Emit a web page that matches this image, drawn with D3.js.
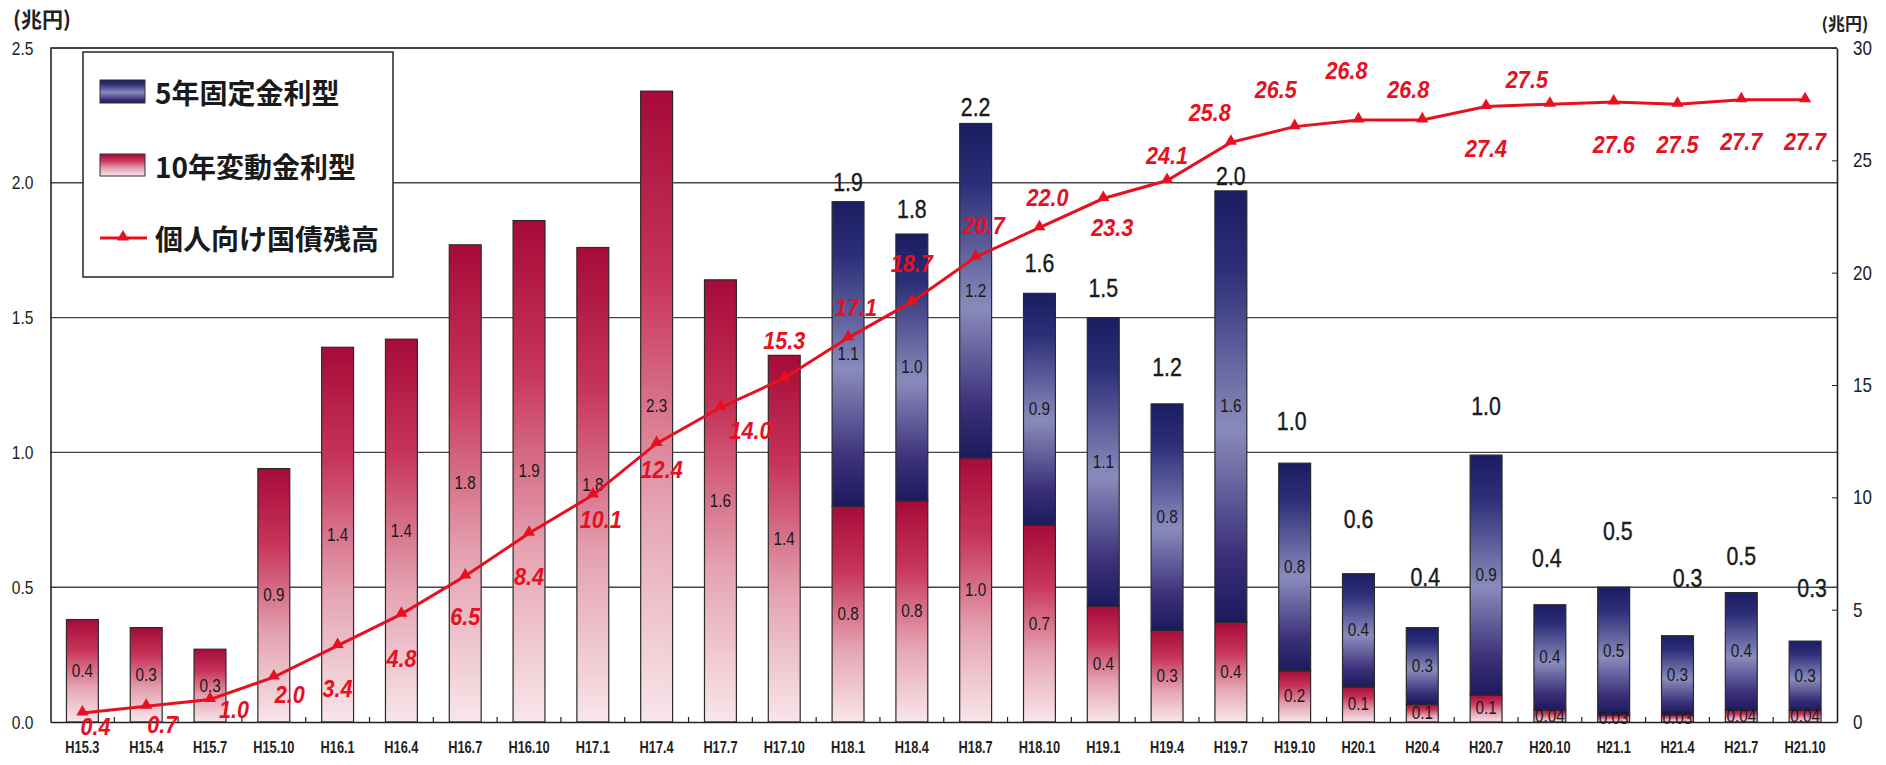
<!DOCTYPE html>
<html><head><meta charset="utf-8">
<script src="https://cdn.jsdelivr.net/npm/d3@7"></script>
<style>body{margin:0;background:#fff;} svg{display:block}</style>
</head><body><svg id="c" width="1886" height="765"></svg>
<script>
// ---------- data ----------
const categories = ["H15.3","H15.4","H15.7","H15.10","H16.1","H16.4","H16.7","H16.10","H17.1","H17.4","H17.7","H17.10",
  "H18.1","H18.4","H18.7","H18.10","H19.1","H19.4","H19.7","H19.10","H20.1","H20.4","H20.7","H20.10","H21.1","H21.4","H21.7","H21.10"];
const float10 = [0.38,0.35,0.27,0.94,1.39,1.42,1.77,1.86,1.76,2.34,1.64,1.36,
  0.80,0.82,0.98,0.73,0.43,0.34,0.37,0.19,0.13,0.065,0.10,0.045,0.027,0.027,0.043,0.043];
const fixed5 = [0,0,0,0,0,0,0,0,0,0,0,0,
  1.13,0.99,1.24,0.86,1.07,0.84,1.60,0.77,0.42,0.285,0.89,0.39,0.473,0.293,0.437,0.257];
const balance = [0.4,0.7,1.0,2.0,3.4,4.8,6.5,8.4,10.1,12.4,14.0,15.3,17.1,18.7,20.7,22.0,23.3,24.1,25.8,26.5,26.8,26.8,27.4,27.5,27.6,27.5,27.7,27.7];
const float10Labels = ["0.4","0.3","0.3","0.9","1.4","1.4","1.8","1.9","1.8","2.3","1.6","1.4",
  "0.8","0.8","1.0","0.7","0.4","0.3","0.4","0.2","0.1","0.1","0.1","0.04","0.03","0.03","0.04","0.04"];
const fixed5Labels = [null,null,null,null,null,null,null,null,null,null,null,null,
  "1.1","1.0","1.2","0.9","1.1","0.8","1.6","0.8","0.4","0.3","0.9","0.4","0.5","0.3","0.4","0.3"];
const totalLabels = [null,null,null,null,null,null,null,null,null,null,null,null,
  "1.9","1.8","2.2","1.6","1.5","1.2","2.0","1.0","0.6","0.4","1.0","0.4","0.5","0.3","0.5","0.3"];
const balanceLabels = ["0.4","0.7","1.0","2.0","3.4","4.8","6.5","8.4","10.1","12.4","14.0","15.3","17.1","18.7","20.7","22.0","23.3","24.1","25.8","26.5","26.8","26.8","27.4","27.5","27.6","27.5","27.7","27.7"];
const leftTicks = [0,0.5,1.0,1.5,2.0,2.5];
const rightTicks = [0,5,10,15,20,25,30];
const legendNames = ["5年固定金利型","10年変動金利型","個人向け国債残高"];
const unitText = "(兆円)";

// ---------- layout (pixels, kept apart from the data) ----------
const PL = 50.5, PR = 1837, PT = 48, PB = 722;
const balanceLabelShift = [[13,14],[16,18],[24,10],[16,18],[0,43],[0,44],[0,41],[0,43],[8,25],[5,26],[30,23],[0,-38],
  [8,-30],[0,-38],[8,-31],[8,-30],[9,29],[0,-25],[-21,-30],[-19,-37],[-12,-49],[-14,-30],[0,42],[-23,-25],[0,43],[0,40],[0,42],[0,42]];
const totalLabelShift = {12:[0,20],13:[0,25],14:[0,17],15:[0,31],16:[0,30],17:[0,37],18:[0,15],19:[-3,42],20:[0,55],
  21:[3,51],22:[0,49],23:[-3,47],24:[4,56],25:[10,58],26:[0,37],27:[7,53]};

const NUM = "'Liberation Sans',Arial,sans-serif";
const JP = "'Noto Sans CJK JP','Noto Sans',sans-serif";
const RED = "#e6101f";

const svg = d3.select("#c");
const defs = svg.append("defs");
const gBlue = defs.append("linearGradient").attr("id","gBlue").attr("x1",0).attr("y1",0).attr("x2",0).attr("y2",1);
[[0,"#1b1d62"],[0.18,"#2c2f78"],[0.55,"#8a8bbc"],[0.85,"#3a2f78"],[1,"#1c1a5e"]].forEach(([o,c])=>gBlue.append("stop").attr("offset",o).attr("stop-color",c));
const gRed = defs.append("linearGradient").attr("id","gRed").attr("x1",0).attr("y1",0).attr("x2",0).attr("y2",1);
[[0,"#a60b39"],[0.3,"#c7355a"],[0.65,"#e4a2b1"],[1,"#f8e6ea"]].forEach(([o,c])=>gRed.append("stop").attr("offset",o).attr("stop-color",c));

const x = d3.scaleBand().domain(categories).range([PL,PR]).paddingInner(0.5).paddingOuter(0.25);
const yL = d3.scaleLinear().domain([0,2.5]).range([PB,PT]);
const yR = d3.scaleLinear().domain([0,30]).range([PB,PT]);
const cx = c => x(c) + x.bandwidth()/2;
// condensed text helper: place at (px,py) and squeeze horizontally
const squeeze = (sx) => function(){ const t=d3.select(this); const px=+t.attr("x")||0, py=+t.attr("y")||0;
  t.attr("transform",`translate(${px},${py}) scale(${sx},1)`).attr("x",0).attr("y",0); };

// gridlines
svg.append("g").selectAll("line").data(leftTicks.filter(t=>t>0)).join("line")
  .attr("x1",PL).attr("x2",PR).attr("y1",d=>yL(d)).attr("y2",d=>yL(d))
  .attr("stroke","#444").attr("stroke-width",1.4);

// left axis
const ax = svg.append("g").attr("transform",`translate(${PL},0)`)
  .call(d3.axisLeft(yL).tickValues(leftTicks).tickFormat(d3.format(".1f")).tickSizeInner(0).tickSizeOuter(0).tickPadding(17));
ax.select(".domain").attr("stroke","#222").attr("stroke-width",1.6);
ax.selectAll("text").attr("font-family",NUM).attr("font-size",19).attr("fill","#222").each(squeeze(0.82));

// right axis
const ar = svg.append("g").attr("transform",`translate(${PR},0)`)
  .call(d3.axisRight(yR).tickValues(rightTicks).tickSizeInner(-5).tickSizeOuter(0).tickPadding(16));
ar.select(".domain").attr("stroke","#222").attr("stroke-width",1.6);
ar.selectAll("line").attr("stroke","#222");
ar.selectAll("text").attr("font-family",NUM).attr("font-size",20).attr("fill","#222").each(squeeze(0.85));

// bars
const stack = categories.map((c,i)=>({c,i,f:float10[i],b:fixed5[i]}));
const gb = svg.append("g");
gb.selectAll("rect.red").data(stack).join("rect").attr("class","red")
  .attr("x",d=>x(d.c)).attr("width",x.bandwidth())
  .attr("y",d=>yL(d.f)).attr("height",d=>yL(0)-yL(d.f))
  .attr("fill","url(#gRed)").attr("stroke","#2a2a2a").attr("stroke-width",1.2);
gb.selectAll("rect.blue").data(stack.filter(d=>d.b>0)).join("rect").attr("class","blue")
  .attr("x",d=>x(d.c)).attr("width",x.bandwidth())
  .attr("y",d=>yL(d.f+d.b)).attr("height",d=>yL(d.f)-yL(d.f+d.b))
  .attr("fill","url(#gBlue)").attr("stroke","#2a2a2a").attr("stroke-width",1.2);

// bottom axis
const axb = svg.append("g").attr("transform",`translate(0,${PB})`)
  .call(d3.axisBottom(x).tickSize(0).tickPadding(20));
axb.select(".domain").attr("stroke","#222").attr("stroke-width",1.6);
axb.selectAll("text").attr("font-family",NUM).attr("font-weight","bold").attr("font-size",16).attr("fill","#222").each(squeeze(0.8));
svg.append("g").selectAll("line").data(d3.range(1,categories.length)).join("line")
  .attr("x1",i=>PL+i*x.step()).attr("x2",i=>PL+i*x.step()).attr("y1",PB).attr("y2",PB-5)
  .attr("stroke","#222").attr("stroke-width",1.2);
// top frame
svg.append("line").attr("x1",PL).attr("x2",PR).attr("y1",yL(2.5)).attr("y2",yL(2.5)).attr("stroke","#333").attr("stroke-width",1.4);

// segment labels
const gl = svg.append("g").attr("font-family",NUM).attr("fill","#1a1a1a").attr("text-anchor","middle").attr("dominant-baseline","central");
gl.selectAll("text.rl").data(stack).join("text").attr("class","rl")
  .attr("x",d=>cx(d.c)).attr("y",d=>(yL(0)+yL(d.f))/2).attr("font-size",18)
  .text(d=>float10Labels[d.i]).each(squeeze(0.85));
gl.selectAll("text.bl").data(stack.filter(d=>fixed5Labels[d.i])).join("text").attr("class","bl")
  .attr("x",d=>cx(d.c)).attr("y",d=>(yL(d.f)+yL(d.f+d.b))/2).attr("font-size",18)
  .text(d=>fixed5Labels[d.i]).each(squeeze(0.85));
gl.selectAll("text.tl").data(stack.filter(d=>totalLabels[d.i])).join("text").attr("class","tl")
  .attr("x",d=>cx(d.c)+totalLabelShift[d.i][0]).attr("y",d=>yL(d.f+d.b)-totalLabelShift[d.i][1]).attr("font-size",26)
  .attr("stroke","#1a1a1a").attr("stroke-width",0.4)
  .text(d=>totalLabels[d.i]).each(squeeze(0.82));

// line
const pts = categories.map((c,i)=>[cx(c), yR(balance[i])]);
svg.append("path").attr("d",d3.line()(pts)).attr("fill","none").attr("stroke",RED).attr("stroke-width",3);
const tri = d3.symbol(d3.symbolTriangle,64);
svg.append("g").selectAll("path").data(pts).join("path")
  .attr("transform",d=>`translate(${d[0]},${d[1]-1})`).attr("d",tri).attr("fill",RED);
svg.append("g").attr("font-family",NUM).attr("font-weight","bold").attr("font-style","italic").attr("font-size",24)
  .attr("fill",RED).attr("text-anchor","middle").attr("dominant-baseline","central")
  .selectAll("text").data(pts).join("text")
  .attr("x",(d,i)=>d[0]+balanceLabelShift[i][0]).attr("y",(d,i)=>d[1]+balanceLabelShift[i][1])
  .text((d,i)=>balanceLabels[i]).each(squeeze(0.9));

// units
svg.append("text").attr("x",42).attr("y",18).attr("text-anchor","middle").attr("dominant-baseline","central")
  .attr("font-family",JP).attr("font-weight","bold").attr("font-size",21).attr("fill","#222").text(unitText);
svg.append("text").attr("x",1845).attr("y",22).attr("text-anchor","middle").attr("dominant-baseline","central")
  .attr("font-family",JP).attr("font-weight","bold").attr("font-size",17).attr("fill","#222").text(unitText);

// legend
const lg = svg.append("g");
lg.append("rect").attr("x",83).attr("y",52).attr("width",310).attr("height",225).attr("fill","#fff").attr("stroke","#333").attr("stroke-width",1.6);
lg.append("rect").attr("x",100).attr("y",80).attr("width",45).attr("height",23).attr("fill","url(#gBlue)").attr("stroke","#333");
lg.append("rect").attr("x",100).attr("y",154).attr("width",45).attr("height",22).attr("fill","url(#gRed)").attr("stroke","#333");
lg.append("line").attr("x1",100).attr("x2",147).attr("y1",238).attr("y2",238).attr("stroke",RED).attr("stroke-width",3);
lg.append("path").attr("transform","translate(123,237)").attr("d",tri).attr("fill",RED);
lg.selectAll("text").data(legendNames).join("text")
  .attr("x",155).attr("y",(d,i)=>[92,166,238][i]).attr("dominant-baseline","central")
  .attr("font-family",JP).attr("font-weight","bold").attr("font-size",28).attr("fill","#1a1a1a").text(d=>d);
</script></body></html>
